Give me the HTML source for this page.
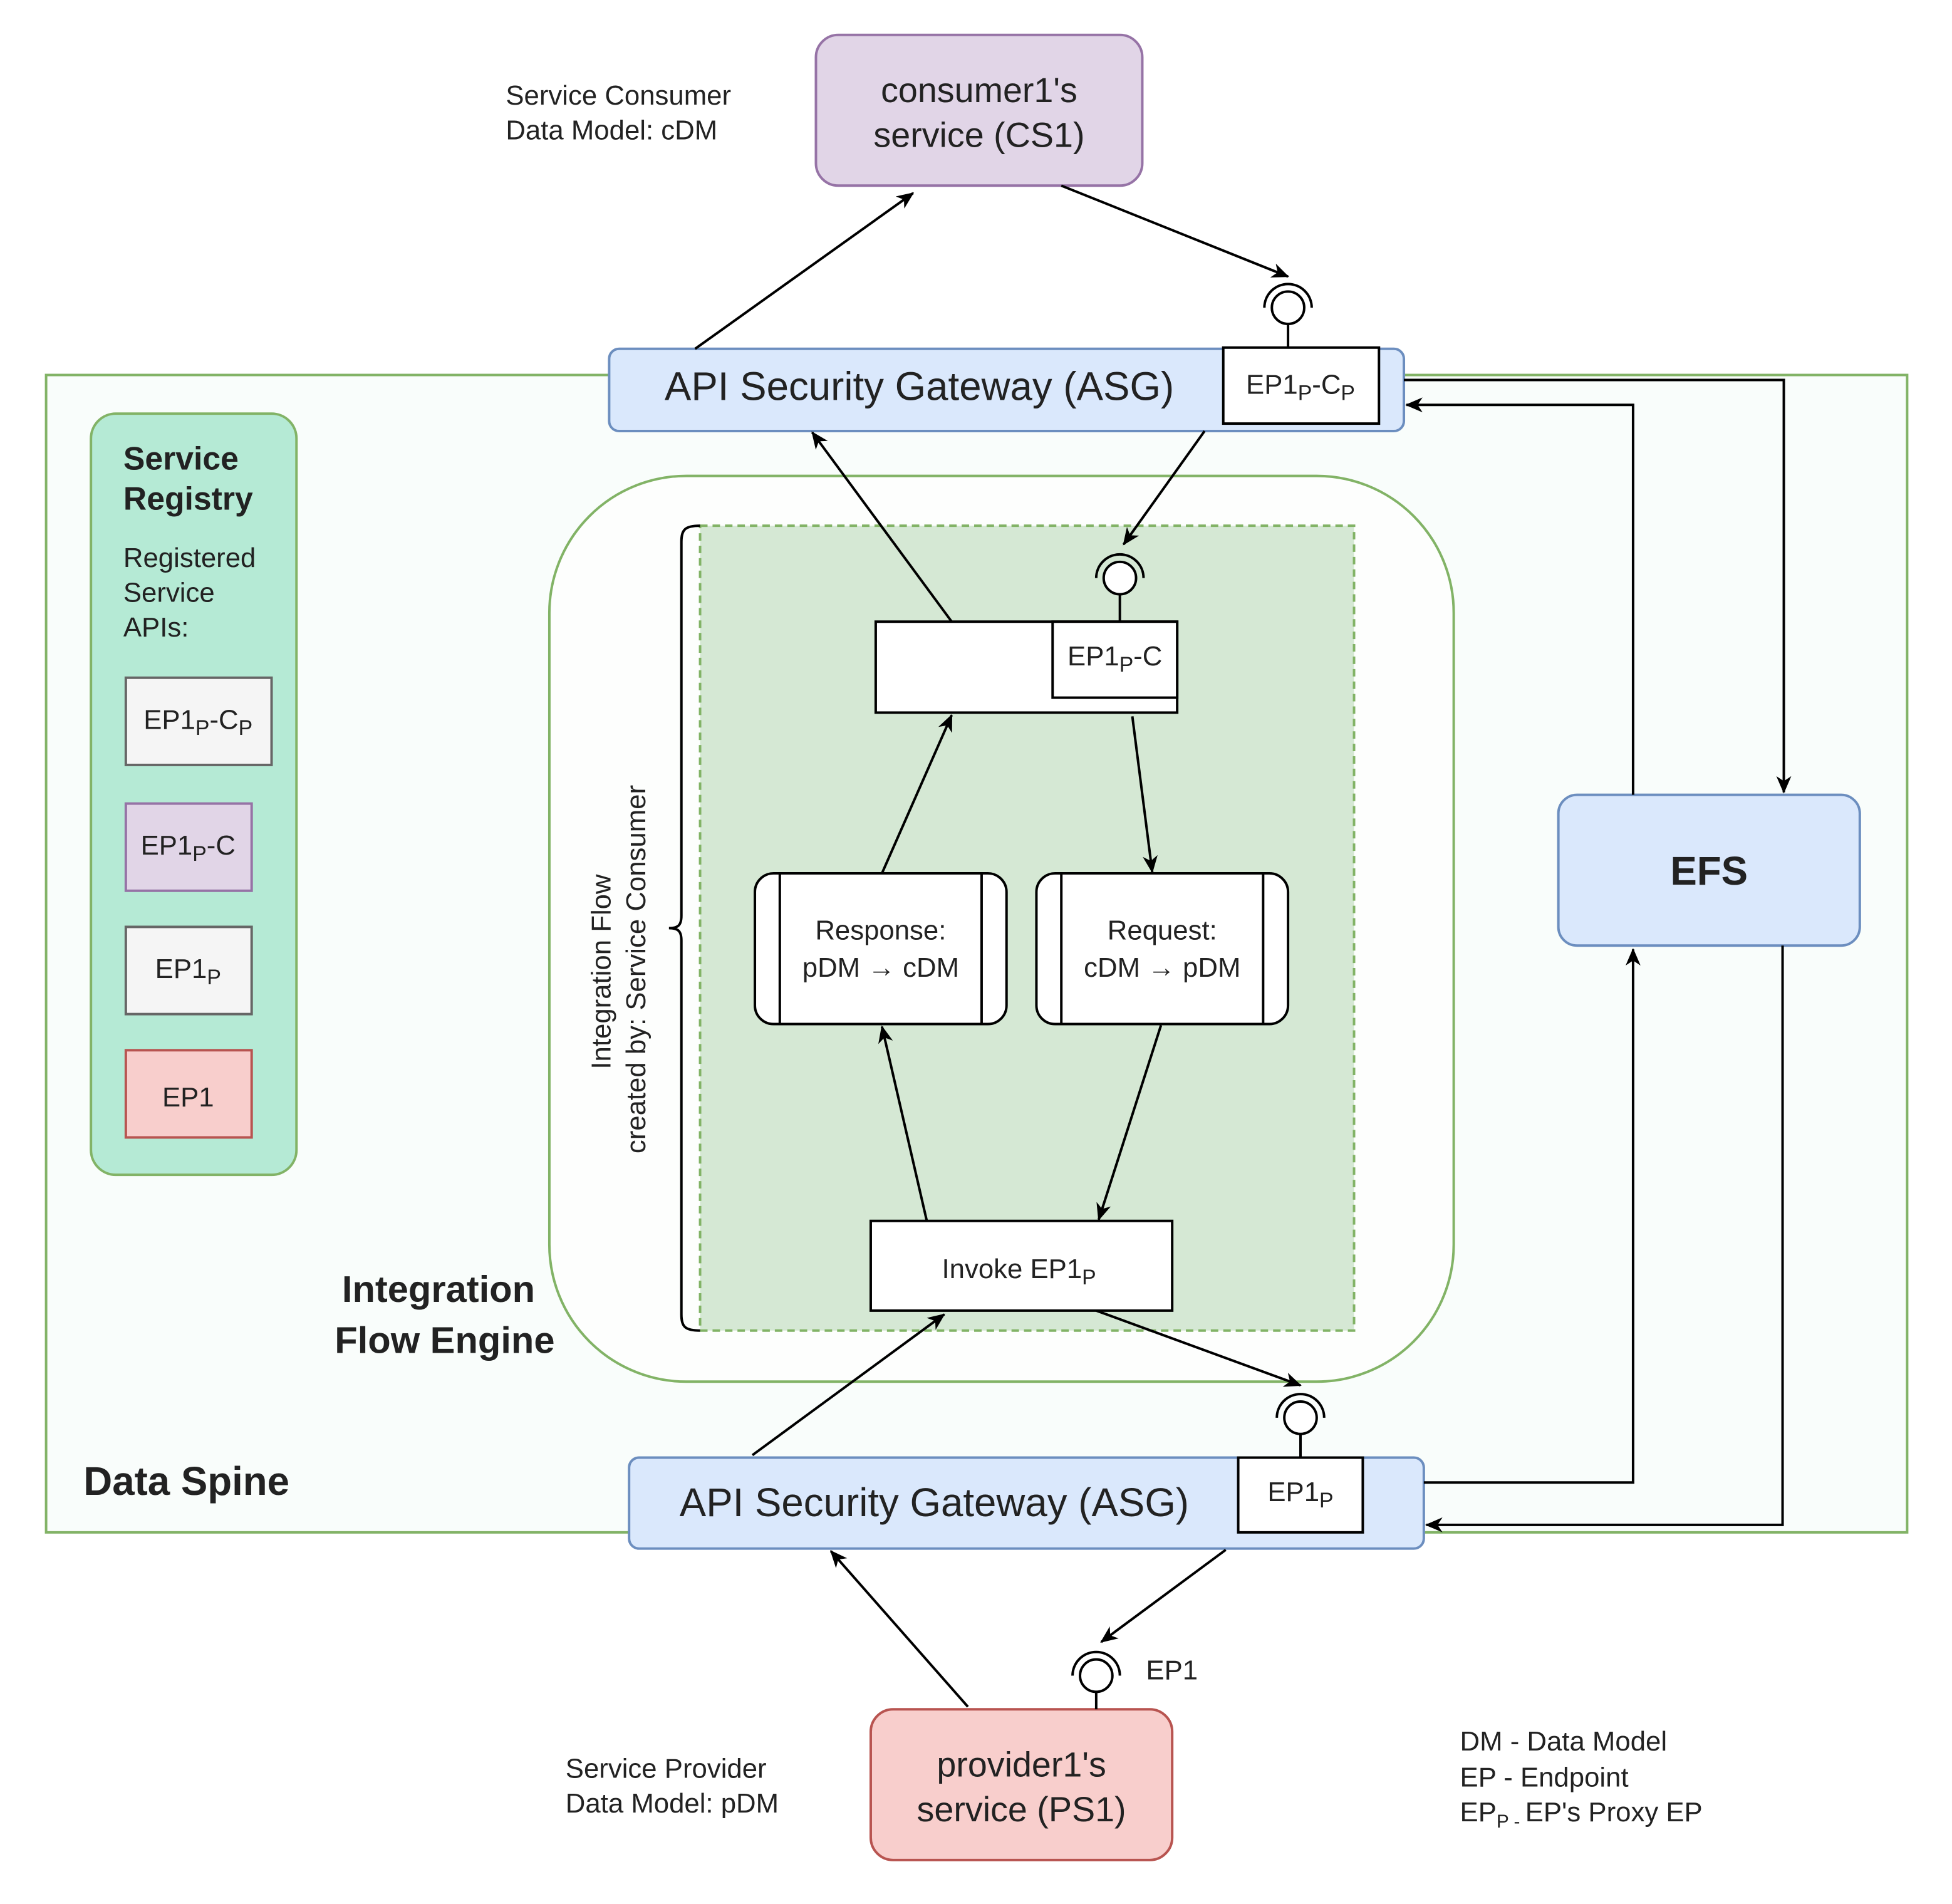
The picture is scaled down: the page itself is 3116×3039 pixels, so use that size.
<!DOCTYPE html>
<html><head><meta charset="utf-8"><style>html,body{margin:0;padding:0;background:#fff}svg{display:block}text{font-family:"Liberation Sans",sans-serif;fill:#222}</style></head>
<body>
<svg width="3116" height="3039" viewBox="0 0 1567 1528.3" xmlns="http://www.w3.org/2000/svg">
<defs>
<marker id="a" markerWidth="14" markerHeight="12" refX="13" refY="6" orient="auto" markerUnits="userSpaceOnUse" viewBox="0 0 14 12"><path d="M0,0 L14,6 L0,12 L4,6 z" fill="#000"/></marker>
</defs>
<rect x="0" y="0" width="1567" height="1529" fill="#fff"/>
<rect x="37" y="301" width="1494" height="929" fill="#f9fdfb" stroke="#82b366" stroke-width="2"/>
<rect x="73" y="332" width="165" height="611" rx="20" fill="#b5ead5" stroke="#82b366" stroke-width="2"/>
<text x="99" y="377" font-size="26" font-weight="bold">Service</text>
<text x="99" y="409" font-size="26" font-weight="bold">Registry</text>
<text x="99" y="455" font-size="22">Registered</text>
<text x="99" y="483" font-size="22">Service</text>
<text x="99" y="511" font-size="22">APIs:</text>
<rect x="101" y="544" width="117" height="70" fill="#f5f5f5" stroke="#666" stroke-width="2"/>
<text x="159" y="585" font-size="22" text-anchor="middle">EP1<tspan font-size="17" dy="5">P</tspan><tspan dy="-5">-C</tspan><tspan font-size="17" dy="5">P</tspan></text>
<rect x="101" y="645" width="101" height="70" fill="#e1d5e7" stroke="#9673a6" stroke-width="2"/>
<text x="151" y="686" font-size="22" text-anchor="middle">EP1<tspan font-size="17" dy="5">P</tspan><tspan dy="-5">-C</tspan></text>
<rect x="101" y="744" width="101" height="70" fill="#f5f5f5" stroke="#666" stroke-width="2"/>
<text x="151" y="785" font-size="22" text-anchor="middle">EP1<tspan font-size="17" dy="5">P</tspan></text>
<rect x="101" y="843" width="101" height="70" fill="#f8cecc" stroke="#b85450" stroke-width="2"/>
<text x="151" y="888" font-size="22" text-anchor="middle">EP1</text>
<rect x="441" y="382" width="726" height="727" rx="110" fill="#fdfefd" stroke="#82b366" stroke-width="2"/>
<rect x="562" y="422" width="525" height="646" fill="#d5e8d4" stroke="#82b366" stroke-width="2" stroke-dasharray="6,4"/>
<path d="M562,422 C550,422 547,425 547,435 L547,735 C547,742 545,745 537,745 C545,745 547,748 547,755 L547,1055 C547,1065 550,1068 562,1068" fill="none" stroke="#000" stroke-width="2"/>
<text transform="translate(490,780) rotate(-90)" font-size="22" text-anchor="middle">Integration Flow</text>
<text transform="translate(518,778) rotate(-90)" font-size="22" text-anchor="middle">created by: Service Consumer</text>
<text x="352" y="1045" font-size="30" font-weight="bold" text-anchor="middle">Integration</text>
<text x="357" y="1086" font-size="30" font-weight="bold" text-anchor="middle">Flow  Engine</text>
<text x="67" y="1200" font-size="32" font-weight="bold">Data Spine</text>
<rect x="655" y="28" width="262" height="121" rx="18" fill="#e1d5e7" stroke="#9673a6" stroke-width="2"/>
<text x="786" y="82" font-size="28" text-anchor="middle">consumer1's</text>
<text x="786" y="118" font-size="28" text-anchor="middle">service (CS1)</text>
<text x="406" y="84" font-size="22">Service Consumer</text>
<text x="406" y="112" font-size="22">Data Model: cDM</text>
<rect x="489" y="280" width="638" height="66" rx="8" fill="#dae8fc" stroke="#6c8ebf" stroke-width="2"/>
<text x="738" y="321" font-size="32" text-anchor="middle">API Security Gateway (ASG)</text>
<rect x="982" y="279" width="125" height="61" fill="#fff" stroke="#000" stroke-width="2"/>
<text x="1044" y="316" font-size="22" text-anchor="middle">EP1<tspan font-size="17" dy="5">P</tspan><tspan dy="-5">-C</tspan><tspan font-size="17" dy="5">P</tspan></text>
<line x1="1034" y1="260" x2="1034" y2="279" stroke="#000" stroke-width="2"/>
<circle cx="1034" cy="247" r="13" fill="#fff" stroke="#000" stroke-width="2"/>
<path d="M1015,247 A19,19 0 0 1 1053,247" fill="none" stroke="#000" stroke-width="2"/>
<line x1="558" y1="280" x2="733" y2="155" stroke="#000" stroke-width="2" marker-end="url(#a)"/>
<line x1="852" y1="149" x2="1034" y2="222" stroke="#000" stroke-width="2" marker-end="url(#a)"/>
<rect x="703" y="499" width="242" height="73" fill="#fff" stroke="#000" stroke-width="2"/>
<rect x="845" y="499" width="100" height="61" fill="#fff" stroke="#000" stroke-width="2"/>
<text x="895" y="534" font-size="22" text-anchor="middle">EP1<tspan font-size="17" dy="5">P</tspan><tspan dy="-5">-C</tspan></text>
<line x1="899" y1="477" x2="899" y2="499" stroke="#000" stroke-width="2"/>
<circle cx="899" cy="464" r="13" fill="#fff" stroke="#000" stroke-width="2"/>
<path d="M880,464 A19,19 0 0 1 918,464" fill="none" stroke="#000" stroke-width="2"/>
<line x1="967" y1="346" x2="902" y2="437" stroke="#000" stroke-width="2" marker-end="url(#a)"/>
<line x1="764" y1="499" x2="652" y2="347" stroke="#000" stroke-width="2" marker-end="url(#a)"/>
<rect x="606" y="701" width="202" height="121" rx="15" fill="#fff" stroke="#000" stroke-width="2"/>
<line x1="626" y1="701" x2="626" y2="822" stroke="#000" stroke-width="2"/>
<line x1="788" y1="701" x2="788" y2="822" stroke="#000" stroke-width="2"/>
<text x="707" y="754" font-size="22" text-anchor="middle">Response:</text>
<text x="707" y="784" font-size="22" text-anchor="middle">pDM → cDM</text>
<rect x="832" y="701" width="202" height="121" rx="15" fill="#fff" stroke="#000" stroke-width="2"/>
<line x1="852" y1="701" x2="852" y2="822" stroke="#000" stroke-width="2"/>
<line x1="1014" y1="701" x2="1014" y2="822" stroke="#000" stroke-width="2"/>
<text x="933" y="754" font-size="22" text-anchor="middle">Request:</text>
<text x="933" y="784" font-size="22" text-anchor="middle">cDM → pDM</text>
<line x1="708" y1="701" x2="764" y2="574" stroke="#000" stroke-width="2" marker-end="url(#a)"/>
<line x1="909" y1="575" x2="925" y2="700" stroke="#000" stroke-width="2" marker-end="url(#a)"/>
<line x1="744" y1="980" x2="708" y2="824" stroke="#000" stroke-width="2" marker-end="url(#a)"/>
<line x1="932" y1="823" x2="882" y2="979" stroke="#000" stroke-width="2" marker-end="url(#a)"/>
<rect x="699" y="980" width="242" height="72" fill="#fff" stroke="#000" stroke-width="2"/>
<text x="818" y="1026" font-size="22" text-anchor="middle">Invoke EP1<tspan font-size="17" dy="5">P</tspan></text>
<rect x="505" y="1170" width="638" height="73" rx="8" fill="#dae8fc" stroke="#6c8ebf" stroke-width="2"/>
<text x="750" y="1217" font-size="32" text-anchor="middle">API Security Gateway (ASG)</text>
<rect x="994" y="1170" width="100" height="60" fill="#fff" stroke="#000" stroke-width="2"/>
<text x="1044" y="1205" font-size="22" text-anchor="middle">EP1<tspan font-size="17" dy="5">P</tspan></text>
<line x1="1044" y1="1151" x2="1044" y2="1170" stroke="#000" stroke-width="2"/>
<circle cx="1044" cy="1138" r="13" fill="#fff" stroke="#000" stroke-width="2"/>
<path d="M1025,1138 A19,19 0 0 1 1063,1138" fill="none" stroke="#000" stroke-width="2"/>
<line x1="880" y1="1052" x2="1044" y2="1112" stroke="#000" stroke-width="2" marker-end="url(#a)"/>
<line x1="604" y1="1168" x2="758" y2="1055" stroke="#000" stroke-width="2" marker-end="url(#a)"/>
<rect x="699" y="1372" width="242" height="121" rx="18" fill="#f8cecc" stroke="#b85450" stroke-width="2"/>
<text x="820" y="1426" font-size="28" text-anchor="middle">provider1's</text>
<text x="820" y="1462" font-size="28" text-anchor="middle">service (PS1)</text>
<text x="454" y="1427" font-size="22">Service Provider</text>
<text x="454" y="1455" font-size="22">Data Model: pDM</text>
<line x1="880" y1="1358" x2="880" y2="1372" stroke="#000" stroke-width="2"/>
<circle cx="880" cy="1345" r="13" fill="#fff" stroke="#000" stroke-width="2"/>
<path d="M861,1345 A19,19 0 0 1 899,1345" fill="none" stroke="#000" stroke-width="2"/>
<text x="920" y="1348" font-size="22">EP1</text>
<line x1="984" y1="1244" x2="884" y2="1318" stroke="#000" stroke-width="2" marker-end="url(#a)"/>
<line x1="777" y1="1370" x2="667" y2="1245" stroke="#000" stroke-width="2" marker-end="url(#a)"/>
<rect x="1251" y="638" width="242" height="121" rx="15" fill="#dae8fc" stroke="#6c8ebf" stroke-width="2"/>
<text x="1372" y="710" font-size="32" font-weight="bold" text-anchor="middle">EFS</text>
<polyline points="1127,305 1432,305 1432,636" fill="none" stroke="#000" stroke-width="2" marker-end="url(#a)"/>
<polyline points="1311,638 1311,325 1129,325" fill="none" stroke="#000" stroke-width="2" marker-end="url(#a)"/>
<polyline points="1143,1190 1311,1190 1311,762" fill="none" stroke="#000" stroke-width="2" marker-end="url(#a)"/>
<polyline points="1431,759 1431,1224 1145,1224" fill="none" stroke="#000" stroke-width="2" marker-end="url(#a)"/>
<text x="1172" y="1405" font-size="22">DM - Data Model</text>
<text x="1172" y="1434" font-size="22">EP  - Endpoint</text>
<text x="1172" y="1462" font-size="22">EP<tspan font-size="15" dy="5">P - </tspan><tspan dy="-5">EP's Proxy EP</tspan></text>
</svg>
</body></html>
